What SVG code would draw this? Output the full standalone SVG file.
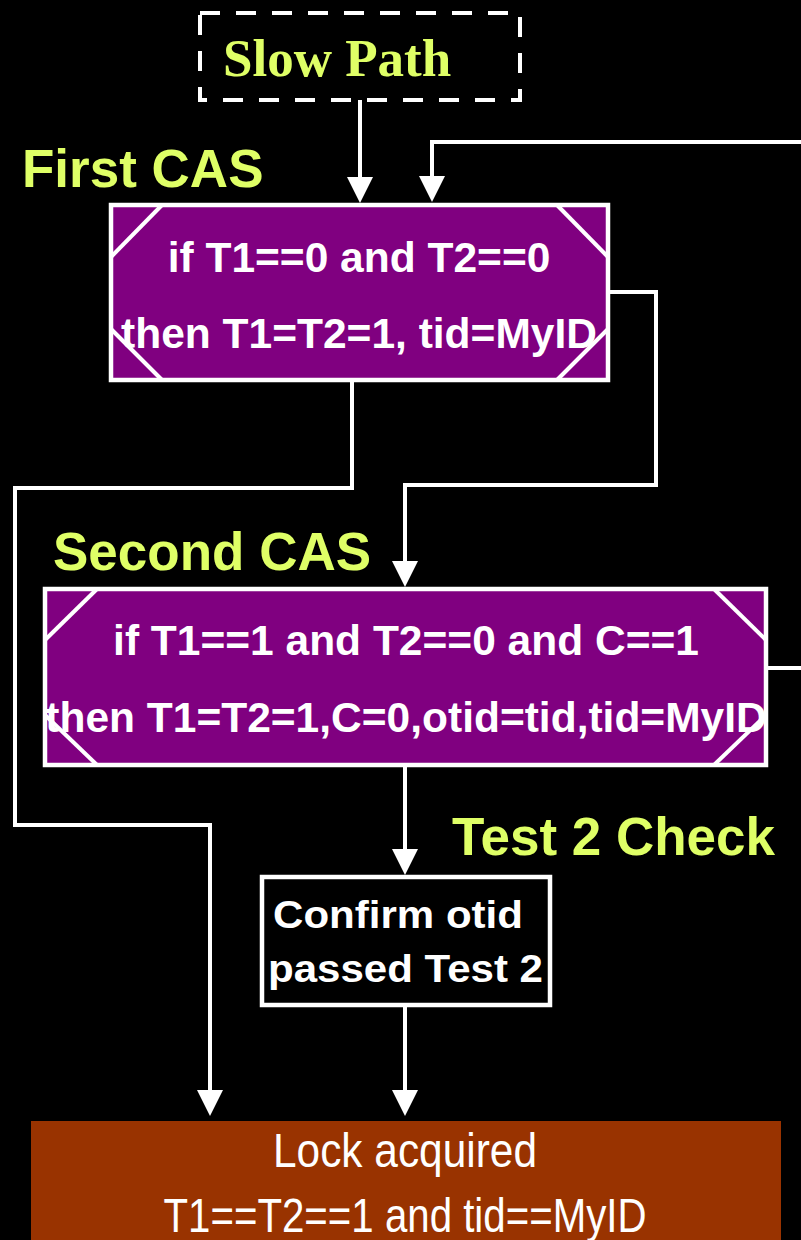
<svg xmlns="http://www.w3.org/2000/svg" width="801" height="1240" viewBox="0 0 801 1240">
  <style>
    .lbl { font-family: "Liberation Sans", Arial, sans-serif; font-weight: bold; font-size: 53px; fill: #DFFF66; }
    .cas { font-family: "Liberation Sans", Arial, sans-serif; font-weight: bold; font-size: 42.5px; fill: #FFFFFF; text-anchor: middle; }
    .conf { font-family: "Liberation Sans", Arial, sans-serif; font-weight: bold; font-size: 38px; fill: #FFFFFF; }
    .lock { font-family: "Liberation Sans Narrow", "Liberation Sans", Arial, sans-serif; font-size: 47.5px; fill: #FFFFFF; }
    .casfill { fill: #800080; stroke: none; }
    .border { fill: none; stroke: #FFFFFF; stroke-width: 4.5; }
    .diag { stroke: #FFFFFF; stroke-width: 4; }
    .conn { fill: none; stroke: #FFFFFF; stroke-width: 4; }
  </style>
  <defs>
    <marker id="arrow" viewBox="0 0 26 26" refX="0" refY="13" markerWidth="26" markerHeight="26" markerUnits="userSpaceOnUse" orient="auto">
      <path d="M0,0 L26,13 L0,26 z" fill="#FFFFFF"/>
    </marker>
  </defs>
  <rect x="0" y="0" width="801" height="1240" fill="#000000"/>

  <g id="slow-path">
    <rect x="200" y="13" width="320" height="87" fill="none" stroke="#FFFFFF" stroke-width="4" stroke-dasharray="20 16"/>
    <text x="223" y="76" font-family="'Liberation Serif', 'Times New Roman', serif" font-weight="bold" font-size="53" fill="#DFFF66">Slow Path</text>
  </g>

  <g id="first-cas-label">
    <text class="lbl" x="22" y="187">First CAS</text>
  </g>

  <g id="first-cas">
    <rect class="casfill" x="111" y="205" width="497" height="175"/>
    <text class="cas" x="359" y="272">if T1==0 and T2==0</text>
    <text class="cas" x="359" y="348">then T1=T2=1, tid=MyID</text>
    <rect class="border" x="111" y="205" width="497" height="175"/>
    <line class="diag" x1="111" y1="257" x2="162" y2="205"/>
    <line class="diag" x1="557" y1="205" x2="608" y2="257"/>
    <line class="diag" x1="111" y1="329" x2="162" y2="380"/>
    <line class="diag" x1="557" y1="380" x2="608" y2="329"/>
  </g>

  <g id="second-cas-label">
    <text class="lbl" x="53" y="570">Second CAS</text>
  </g>

  <g id="second-cas">
    <rect class="casfill" x="45" y="589" width="721" height="176"/>
    <text class="cas" x="406" y="655">if T1==1 and T2==0 and C==1</text>
    <text class="cas" x="406" y="732">then T1=T2=1,C=0,otid=tid,tid=MyID</text>
    <rect class="border" x="45" y="589" width="721" height="176"/>
    <line class="diag" x1="45" y1="640" x2="97" y2="589"/>
    <line class="diag" x1="714" y1="589" x2="766" y2="640"/>
    <line class="diag" x1="45" y1="715" x2="97" y2="765"/>
    <line class="diag" x1="714" y1="765" x2="766" y2="715"/>
  </g>

  <g id="test2-label">
    <text class="lbl" x="452" y="855">Test 2 Check</text>
  </g>

  <g id="confirm">
    <rect x="262" y="877" width="288" height="128" fill="#000000" stroke="#FFFFFF" stroke-width="4.5"/>
    <text class="conf" x="273" y="928" textLength="250" lengthAdjust="spacingAndGlyphs">Confirm otid</text>
    <text class="conf" x="268" y="982" textLength="275" lengthAdjust="spacingAndGlyphs">passed Test 2</text>
  </g>

  <g id="lock-acquired">
    <rect x="31" y="1121" width="750" height="130" fill="#993300"/>
    <text class="lock" x="273" y="1167" textLength="264" lengthAdjust="spacingAndGlyphs">Lock acquired</text>
    <text class="lock" x="163.5" y="1232" textLength="483" lengthAdjust="spacingAndGlyphs">T1==T2==1 and tid==MyID</text>
  </g>

  <g id="connectors">
    <path class="conn" d="M360,100 V177" marker-end="url(#arrow)"/>
    <path class="conn" d="M766,668 H805 V142 H432 V176" marker-end="url(#arrow)"/>
    <path class="conn" d="M608,292 H656 V485 H405 V561" marker-end="url(#arrow)"/>
    <path class="conn" d="M352,380 V488 H15 V825 H210 V1090" marker-end="url(#arrow)"/>
    <path class="conn" d="M405,765 V849" marker-end="url(#arrow)"/>
    <path class="conn" d="M405,1005 V1090" marker-end="url(#arrow)"/>
  </g>
</svg>
